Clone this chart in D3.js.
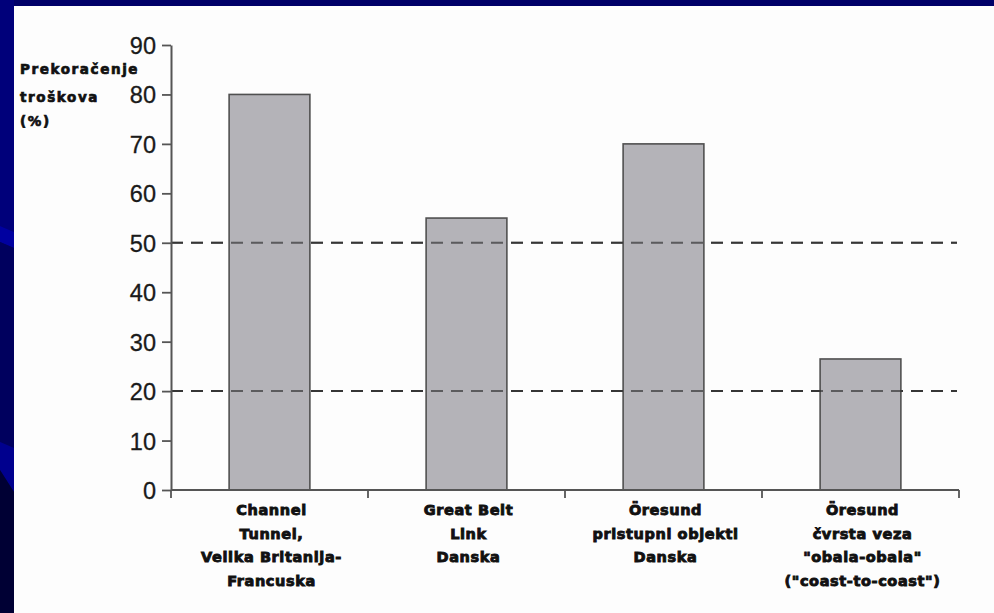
<!DOCTYPE html>
<html><head><meta charset="utf-8">
<script src="https://cdn.jsdelivr.net/npm/d3@7/dist/d3.min.js"></script>
<style>html,body{margin:0;padding:0;background:#000066;}svg{display:block;}</style>
</head><body>
<svg id="c" width="994" height="613"></svg>
<script>
const categories = ["Channel Tunnel", "Great Belt Link", "Öresund pristupni", "Öresund čvrsta veza"];
const categoryLabels = [
  ["Channel", "Tunnel,", "Velika Britanija-", "Francuska"],
  ["Great Belt", "Link", "Danska"],
  ["Öresund", "pristupni objekti", "Danska"],
  ["Öresund", "čvrsta veza", "\"obala-obala\"", "(\"coast-to-coast\")"]
];
const overrun = [80, 55, 70, 26.5];
const yTicks = [0, 10, 20, 30, 40, 50, 60, 70, 80, 90];
const refLines = [50, 20];
const yTitle = ["Prekoračenje", "troškova", "(%)"];

const svg = d3.select("#c");
// slide background
svg.append("rect").attr("width", 994).attr("height", 613).attr("fill", "#000068");
svg.append("polygon").attr("points", "0,0 14,0 14,232 0,226").attr("fill", "#00007a");
svg.append("polygon").attr("points", "0,226 14,232 14,248 0,242").attr("fill", "#0000a0");
svg.append("polygon").attr("points", "0,242 14,248 14,448 0,442").attr("fill", "#00005e");
svg.append("polygon").attr("points", "0,442 14,448 14,492 0,470").attr("fill", "#00008e");
svg.append("polygon").attr("points", "0,470 14,492 14,613 0,613").attr("fill", "#000034");
svg.append("rect").attr("x", 14).attr("y", 6).attr("width", 980).attr("height", 607).attr("fill", "#fdfdfd");

const x = d3.scaleBand().domain(categories).range([171, 959]).padding(0);
const y = d3.scaleLinear().domain([0, 90]).range([490, 45]);
const barW = x.bandwidth() * 0.41;

// reference dashed lines
svg.append("g").selectAll("line").data(refLines).join("line")
  .attr("x1", 171).attr("x2", 957)
  .attr("y1", d => y(d)).attr("y2", d => y(d))
  .attr("stroke", "#4a4a4a").attr("stroke-width", 2)
  .attr("stroke-dasharray", "12,8");

// bars
svg.append("g").selectAll("rect").data(categories).join("rect")
  .attr("x", d => x(d) + x.bandwidth() / 2 - barW / 2)
  .attr("y", (d, i) => y(overrun[i]))
  .attr("width", barW)
  .attr("height", (d, i) => y(0) - y(overrun[i]))
  .attr("fill", "#aeacb2").attr("fill-opacity", 0.92)
  .attr("stroke", "#505050").attr("stroke-width", 1.6);

// dashed lines over bars (visible through)
svg.append("g").selectAll("line").data(refLines).join("line")
  .attr("x1", 171).attr("x2", 957)
  .attr("y1", d => y(d)).attr("y2", d => y(d))
  .attr("stroke", "#2a2a2a").attr("stroke-width", 2).attr("stroke-opacity", 0.6)
  .attr("stroke-dasharray", "12,8");

// y axis
const ya = svg.append("g").attr("transform", "translate(171,0)")
  .call(d3.axisLeft(y).tickValues(yTicks).tickSize(9).tickSizeOuter(0).tickPadding(6));
ya.select(".domain").attr("stroke", "#555").attr("stroke-width", 2);
ya.selectAll(".tick line").attr("stroke", "#555").attr("stroke-width", 1.8);
ya.selectAll(".tick text").attr("fill", "#1a1a1a").attr("stroke", "#1a1a1a").attr("stroke-width", 0.3)
  .style("font-family", "'Liberation Sans', Arial, sans-serif").style("font-size", "23.5px")
  .attr("dy", "0.36em");

// x axis line and boundary ticks
svg.append("line").attr("x1", 171).attr("x2", x.range()[1])
  .attr("y1", y(0)).attr("y2", y(0)).attr("stroke", "#555").attr("stroke-width", 2);
const bounds = [x.range()[0]].concat(categories.map(c => x(c) + x.bandwidth()));
svg.append("g").selectAll("line").data(bounds).join("line")
  .attr("x1", d => d).attr("x2", d => d)
  .attr("y1", y(0)).attr("y2", y(0) + 8)
  .attr("stroke", "#555").attr("stroke-width", 1.8);

// category labels
const lab = svg.append("g").selectAll("text").data(categories).join("text")
  .attr("text-anchor", "middle")
  .attr("fill", "#111").attr("stroke", "#111").attr("stroke-width", 0.9)
  .style("font-family", "'DejaVu Sans', sans-serif").style("font-weight", "bold").style("font-size", "14.5px")
  .style("letter-spacing", "0.6px");
lab.each(function(d, i) {
  const t = d3.select(this);
  categoryLabels[i].forEach((ln, j) => {
    t.append("tspan").attr("x", x(d) + x.bandwidth() / 2 + 2).attr("y", 515 + j * 23.5).text(ln);
  });
});

// y title
const yt = svg.append("text").attr("fill", "#111").attr("stroke", "#111").attr("stroke-width", 0.7)
  .style("font-family", "'DejaVu Sans', sans-serif").style("font-weight", "bold").style("font-size", "13.5px")
  .style("letter-spacing", "1.6px");
yTitle.forEach((ln, j) => {
  yt.append("tspan").attr("x", 20).attr("y", [74, 102, 126][j]).text(ln);
});
</script>
</body></html>
